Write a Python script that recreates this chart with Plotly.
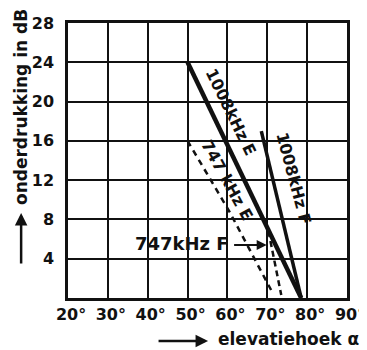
import plotly.graph_objects as go

# Data
x_1008_E = [50, 78.5]
y_1008_E = [24, 0]

x_1008_F = [68.5, 78.5]
y_1008_F = [17, 0]

x_747_E = [50, 60.5, 71.5]
y_747_E = [16, 8.8, 0.4]

x_747_F = [70.3, 73.5]
y_747_F = [6.8, 0.3]

x_ticks = [20, 30, 40, 50, 60, 70, 80, 90]
x_ticktext = ["20°", "30°", "40°", "50°", "60°", "70°", "80°", "90°"]
y_ticks = [4, 8, 12, 16, 20, 24, 28]
y_ticktext = ["4", "8", "12", "16", "20", "24", "28"]

FONT = "DejaVu Sans"
INK = "#111111"

fig = go.Figure()
fig.add_trace(go.Scatter(x=x_1008_E, y=y_1008_E, mode="lines",
                         line=dict(color=INK, width=4.5), hoverinfo="skip"))
fig.add_trace(go.Scatter(x=x_1008_F, y=y_1008_F, mode="lines",
                         line=dict(color=INK, width=3.5), hoverinfo="skip"))
fig.add_trace(go.Scatter(x=x_747_E, y=y_747_E, mode="lines",
                         line=dict(color=INK, width=2.5, dash="6px,5px"), hoverinfo="skip"))
fig.add_trace(go.Scatter(x=x_747_F, y=y_747_F, mode="lines",
                         line=dict(color=INK, width=2.5, dash="6px,4px"), hoverinfo="skip"))

lab_font = dict(family=FONT, size=16, color=INK, weight="bold")
fig.add_annotation(x=60.8, y=19.0, text="1008kHz E", showarrow=False,
                   textangle=64, font=lab_font)
fig.add_annotation(x=76.7, y=12.2, text="1008kHz F", showarrow=False,
                   textangle=75, font=lab_font)
fig.add_annotation(x=60.0, y=12.0, text="747 kHz E", showarrow=False,
                   textangle=61, font=lab_font)
fig.add_annotation(x=48.7, y=5.6, text="747kHz F", showarrow=False,
                   font=dict(family=FONT, size=18, color=INK, weight="bold"))
# arrow from "747kHz F" label to its curve
fig.add_annotation(x=69.85, y=5.4, ax=61.3, ay=5.4, axref="x", ayref="y",
                   xref="x", yref="y", text="", showarrow=True,
                   arrowhead=2, arrowsize=1, arrowwidth=2, arrowcolor=INK)

# axis titles with arrows
title_font = dict(family=FONT, size=17, color=INK, weight="bold")
fig.add_annotation(xref="paper", yref="paper", x=-0.168, y=0.695,
                   xanchor="center", yanchor="middle",
                   text="onderdrukking in dB", textangle=-90, showarrow=False,
                   font=title_font)
fig.add_annotation(xref="paper", yref="paper", x=-0.168, y=0.309, ax=0, ay=52,
                   text="", showarrow=True, arrowhead=2, arrowsize=1,
                   arrowwidth=2.5, arrowcolor=INK)
fig.add_annotation(xref="paper", yref="paper", x=0.789, y=-0.149,
                   xanchor="center", yanchor="middle",
                   text="elevatiehoek α", showarrow=False, font=title_font)
fig.add_annotation(xref="paper", yref="paper", x=0.502, y=-0.156, ax=-51, ay=0,
                   text="", showarrow=True, arrowhead=2, arrowsize=1,
                   arrowwidth=2.5, arrowcolor=INK)

fig.update_xaxes(range=[20, 90], tickvals=x_ticks, ticktext=x_ticktext,
                 showgrid=True, gridcolor=INK, gridwidth=1.5,
                 showline=True, linecolor=INK, linewidth=2.5, mirror=True,
                 ticks="", ticklen=0, zeroline=False,
                 tickfont=dict(family=FONT, size=16, color=INK, weight="bold"),
                 ticklabelstandoff=0, ticklabelshift=3, automargin=False)
fig.update_yaxes(range=[0, 28], tickvals=y_ticks, ticktext=y_ticktext,
                 showgrid=True, gridcolor=INK, gridwidth=1.5,
                 showline=True, linecolor=INK, linewidth=2.5, mirror=True,
                 ticks="", ticklen=0, zeroline=False,
                 tickfont=dict(family=FONT, size=16, color=INK, weight="bold"),
                 ticklabelstandoff=8, automargin=False)

fig.update_layout(width=367, height=350, showlegend=False,
                  margin=dict(l=60, r=28, t=15, b=60),
                  paper_bgcolor="white", plot_bgcolor="white")

fig.write_html("out.html")
